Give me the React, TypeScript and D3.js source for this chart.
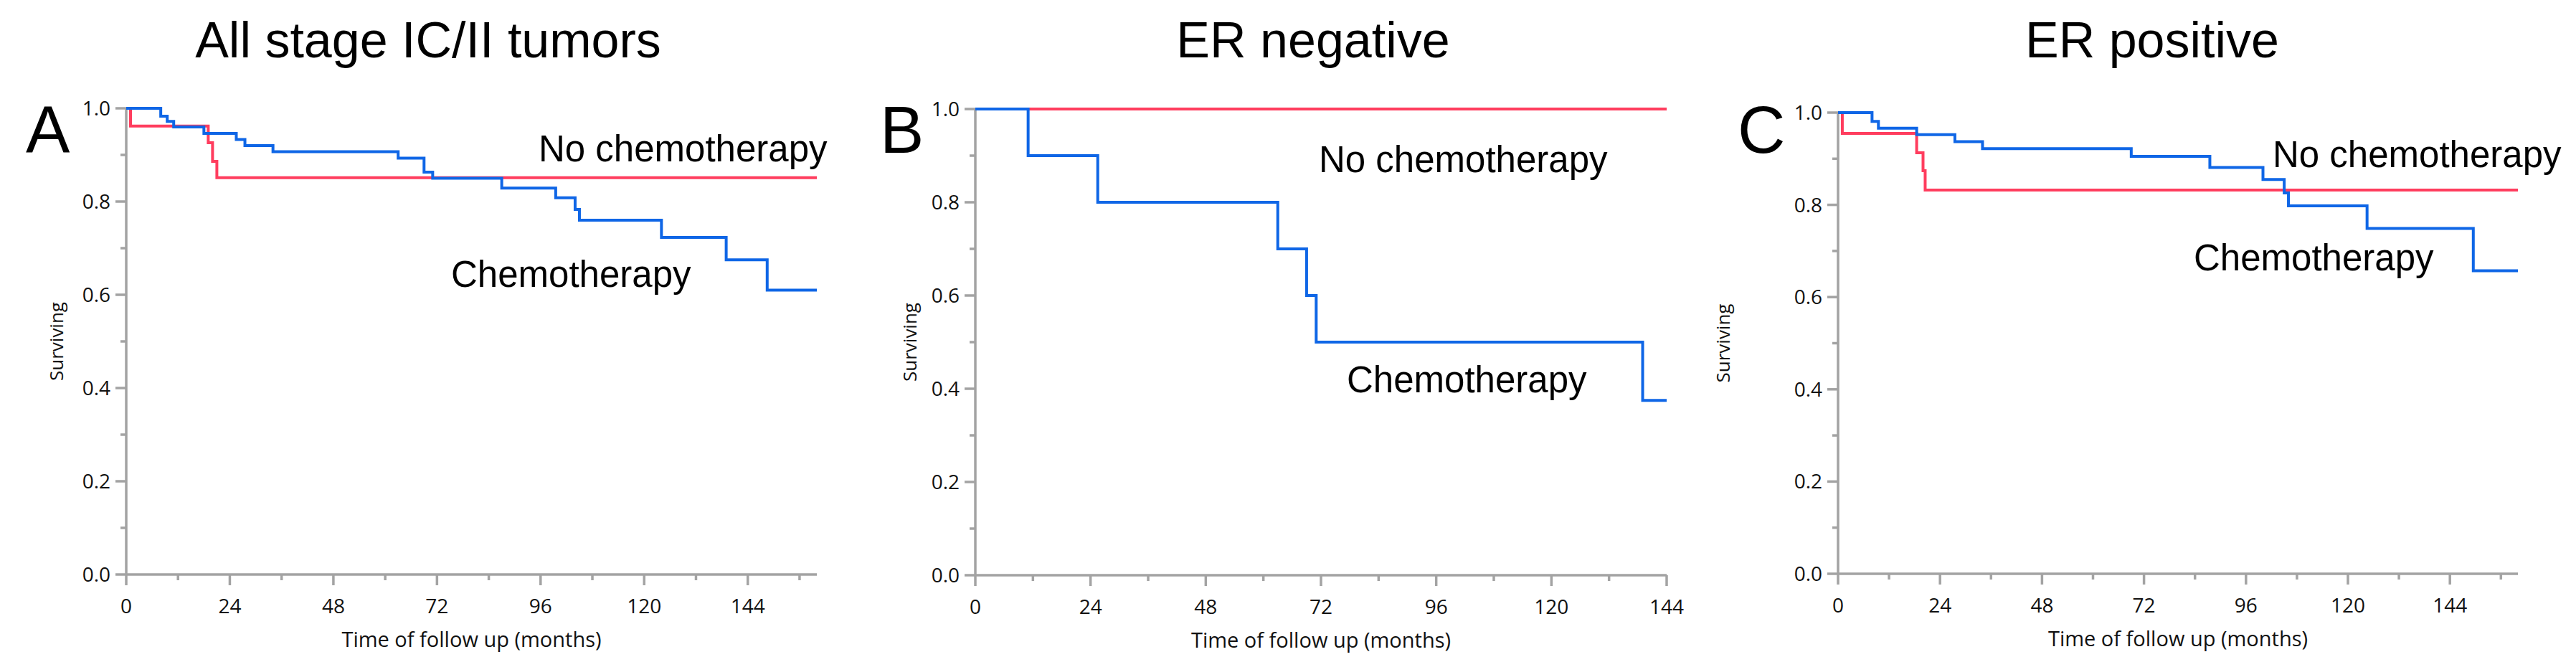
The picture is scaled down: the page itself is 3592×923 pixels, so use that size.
import React from "react";
import * as d3 from "d3";

// ---------- data ----------
const titles = ["All stage IC/II tumors", "ER negative", "ER positive"];
const panelLetters = ["A", "B", "C"];
const xMaxMonths = [160, 144, 160];
const yTicksMajor = [0, 0.2, 0.4, 0.6, 0.8, 1.0];
const yTicksMinor = [0.1, 0.3, 0.5, 0.7, 0.9];

// Panel A: all stage IC/II tumors
const aChemoTime = [0, 8, 9.5, 11, 18, 25.5, 27.5, 34, 63, 69, 71, 87, 99.5, 104, 105, 124, 139, 148.5, 160];
const aChemoSurv = [1, 0.983, 0.972, 0.96, 0.946, 0.933, 0.92, 0.907, 0.893, 0.863, 0.85, 0.829, 0.808, 0.783, 0.76, 0.723, 0.675, 0.61, 0.61];
const aNoChemoTime = [0, 1, 19, 20, 21, 160];
const aNoChemoSurv = [1, 0.962, 0.926, 0.886, 0.851, 0.851];

// Panel B: ER negative
const bChemoTime = [0, 11, 25.5, 63, 69, 71, 139, 144];
const bChemoSurv = [1, 0.9, 0.8, 0.7, 0.6, 0.5, 0.375, 0.375];
const bNoChemoTime = [0, 144];
const bNoChemoSurv = [1, 1];

// Panel C: ER positive
const cChemoTime = [0, 8, 9.5, 18.5, 27.5, 34, 69, 87.5, 100, 105, 106, 124.5, 149.5, 160];
const cChemoSurv = [1, 0.981, 0.966, 0.952, 0.937, 0.922, 0.905, 0.881, 0.855, 0.826, 0.798, 0.749, 0.657, 0.657];
const cNoChemoTime = [0, 1, 18.5, 20, 20.5, 160];
const cNoChemoSurv = [1, 0.955, 0.913, 0.874, 0.832, 0.832];

const chemoLabel = "Chemotherapy";
const noChemoLabel = "No chemotherapy";
const yAxisLabel = "Surviving";
const xAxisLabel = "Time of follow up (months)";

// ---------- layout ----------
const W = 3592;
const H = 923;
const panels = [
  {
    x0: 176, x1: 1139, yTop: 151, yBottom: 801,
    chemo: [aChemoTime, aChemoSurv], noChemo: [aNoChemoTime, aNoChemoSurv],
    titleX: 597, letterX: 36, ylabX: 88,
    noLab: [751, 225], chLab: [629, 400],
  },
  {
    x0: 1360, x1: 2324, yTop: 152, yBottom: 802,
    chemo: [bChemoTime, bChemoSurv], noChemo: [bNoChemoTime, bNoChemoSurv],
    titleX: 1831, letterX: 1227, ylabX: 1278,
    noLab: [1839, 240], chLab: [1878, 547],
  },
  {
    x0: 2563, x1: 3511, yTop: 157, yBottom: 800,
    chemo: [cChemoTime, cChemoSurv], noChemo: [cNoChemoTime, cNoChemoSurv],
    titleX: 3001, letterX: 2423, ylabX: 2412,
    noLab: [3169, 233], chLab: [3059, 377],
  },
];

const AXIS = "#a3a3a3";
const BLUE = "#0f66e6";
const RED = "#ff3d5e";
const tickFont = "'Open Sans', 'Noto Sans', sans-serif";
const labFont = "'Liberation Sans', Arial, sans-serif";

function Panel({ p, i }: { p: any; i: number }) {
  const xMax = xMaxMonths[i];
  const x = d3.scaleLinear().domain([0, xMax]).range([p.x0, p.x1]);
  const y = d3.scaleLinear().domain([0, 1]).range([p.yBottom, p.yTop]);
  const line = d3
    .line<[number, number]>()
    .x((d) => x(d[0]))
    .y((d) => y(d[1]))
    .curve(d3.curveStepAfter);
  const pts = (s: number[][]) => s[0].map((t: number, k: number) => [t, s[1][k]] as [number, number]);
  const xMajor = d3.range(0, xMax + 0.1, 24);
  const xMinor = d3.range(12, xMax + 0.1, 24);
  const yMid = (p.yTop + p.yBottom) / 2;
  return (
    <g>
      <text x={p.titleX} y={80} fontFamily={labFont} fontSize={70} textAnchor="middle" fill="#000">
        {titles[i]}
      </text>
      <text x={p.letterX} y={213} fontFamily={labFont} fontSize={92} fill="#000">
        {panelLetters[i]}
      </text>
      {/* axes */}
      <line x1={x(0)} x2={x(0)} y1={y(1)} y2={y(0)} stroke={AXIS} strokeWidth={3.5} />
      <line x1={x(0)} x2={x(xMax)} y1={y(0)} y2={y(0)} stroke={AXIS} strokeWidth={3.5} />
      {yTicksMajor.map((v) => (
        <g key={"ym" + v}>
          <line x1={x(0) - 15} x2={x(0)} y1={y(v)} y2={y(v)} stroke={AXIS} strokeWidth={3.5} />
          <text x={x(0) - 22} y={y(v) + 10} fontFamily={tickFont} fontSize={28} textAnchor="end" fill="#111">
            {v.toFixed(1)}
          </text>
        </g>
      ))}
      {yTicksMinor.map((v) => (
        <line key={"yn" + v} x1={x(0) - 8} x2={x(0)} y1={y(v)} y2={y(v)} stroke={AXIS} strokeWidth={3.5} />
      ))}
      {xMajor.map((v) => (
        <g key={"xm" + v}>
          <line x1={x(v)} x2={x(v)} y1={y(0)} y2={y(0) + 15} stroke={AXIS} strokeWidth={3.5} />
          <text x={x(v)} y={y(0) + 54} fontFamily={tickFont} fontSize={28} textAnchor="middle" fill="#111">
            {v}
          </text>
        </g>
      ))}
      {xMinor.map((v) => (
        <line key={"xn" + v} x1={x(v)} x2={x(v)} y1={y(0)} y2={y(0) + 8} stroke={AXIS} strokeWidth={3.5} />
      ))}
      <text
        x={(x(0) + x(xMax)) / 2}
        y={y(0) + 101}
        fontFamily={tickFont}
        fontSize={29}
        textAnchor="middle"
        fill="#111"
      >
        {xAxisLabel}
      </text>
      <text
        transform={`translate(${p.ylabX},${yMid}) rotate(-90)`}
        fontFamily={tickFont}
        fontSize={26}
        textAnchor="middle"
        fill="#111"
      >
        {yAxisLabel}
      </text>
      {/* curves */}
      <path d={line(pts(p.noChemo)) || ""} fill="none" stroke={RED} strokeWidth={4} />
      <path d={line(pts(p.chemo)) || ""} fill="none" stroke={BLUE} strokeWidth={4} />
      <text x={p.noLab[0]} y={p.noLab[1]} fontFamily={labFont} fontSize={51} fill="#000">
        {noChemoLabel}
      </text>
      <text x={p.chLab[0]} y={p.chLab[1]} fontFamily={labFont} fontSize={51} fill="#000">
        {chemoLabel}
      </text>
    </g>
  );
}

export default function App() {
  return (
    <div style={{ position: "absolute", left: 0, top: 0, width: W, height: H, background: "#fff" }}>
      <svg width={W} height={H} viewBox={`0 0 ${W} ${H}`}>
        <rect width={W} height={H} fill="#fff" />
        {panels.map((p, i) => (
          <Panel key={i} p={p} i={i} />
        ))}
      </svg>
    </div>
  );
}
